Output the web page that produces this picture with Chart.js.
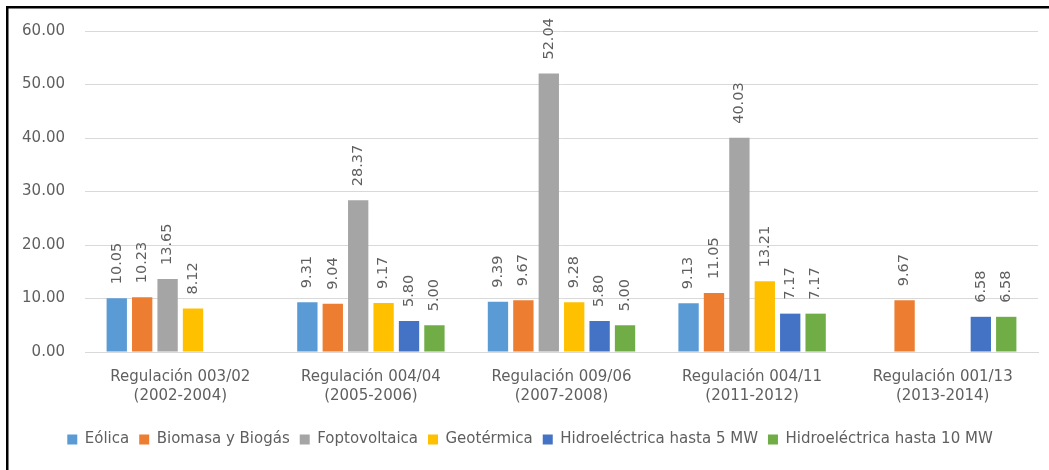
<!DOCTYPE html>
<html lang="es">
<head>
<meta charset="utf-8">
<title>Tarifas por tecnología y regulación</title>
<script src="https://cdn.jsdelivr.net/npm/chart.js@4.4.1/dist/chart.umd.min.js"></script>
<style>
  html, body { margin: 0; padding: 0; background: #ffffff; }
  #wrap { width: 1049px; height: 470px; position: relative; }
</style>
</head>
<body>
<div id="wrap"><canvas id="chart" width="1049" height="470"></canvas></div>
<script>
// Regulations (categories), two-line labels
const categories = [
  ['Regulación 003/02', '(2002-2004)'],
  ['Regulación 004/04', '(2005-2006)'],
  ['Regulación 009/06', '(2007-2008)'],
  ['Regulación 004/11', '(2011-2012)'],
  ['Regulación 001/13', '(2013-2014)']
];

// Series values per technology (null = not covered by that regulation)
const eolica     = [10.05, 9.31, 9.39, 9.13, null];
const biomasa    = [10.23, 9.04, 9.67, 11.05, 9.67];
const foto       = [13.65, 28.37, 52.04, 40.03, null];
const geotermica = [8.12, 9.17, 9.28, 13.21, null];
const hidro5     = [null, 5.80, 5.80, 7.17, 6.58];
const hidro10    = [null, 5.00, 5.00, 7.17, 6.58];

const seriesNames = ['Eólica', 'Biomasa y Biogás', 'Foptovoltaica', 'Geotérmica',
                     'Hidroeléctrica hasta 5 MW', 'Hidroeléctrica hasta 10 MW'];
const seriesColors = ['#5B9BD5', '#ED7D31', '#A5A5A5', '#FFC000', '#4472C4', '#70AD47'];

// Y axis tick values
const yTicks = [0, 10, 20, 30, 40, 50, 60];

const FONT = 'DejaVu Sans';
const TEXT = '#5f5f5f';

// Value labels written vertically above each bar
const valueLabels = {
  id: 'valueLabels',
  afterDatasetsDraw(chart) {
    const ctx = chart.ctx;
    ctx.save();
    ctx.fillStyle = TEXT;
    ctx.font = '14.5px "' + FONT + '"';
    ctx.textAlign = 'left';
    ctx.textBaseline = 'middle';
    chart.data.datasets.forEach((ds, i) => {
      const meta = chart.getDatasetMeta(i);
      meta.data.forEach((el, j) => {
        const v = ds.data[j];
        if (v === null || v === undefined) return;
        ctx.save();
        ctx.translate(el.x, el.y - 14);
        ctx.rotate(-Math.PI / 2);
        ctx.fillText(v.toFixed(2), 0, 0);
        ctx.restore();
      });
    });
    ctx.restore();
  }
};

// Frame lines along the top and left edges
const frame = {
  id: 'frame',
  afterDraw(chart) {
    const ctx = chart.ctx;
    ctx.save();
    ctx.fillStyle = '#000000';
    ctx.fillRect(6, 6, chart.width - 6, 2.5);
    ctx.fillRect(6, 6, 2.5, chart.height - 6);
    ctx.restore();
  }
};

const seriesData = [eolica, biomasa, foto, geotermica, hidro5, hidro10];

new Chart(document.getElementById('chart'), {
  type: 'bar',
  data: {
    labels: categories,
    datasets: seriesData.map((d, i) => ({
      label: seriesNames[i],
      data: d,
      backgroundColor: seriesColors[i],
      borderWidth: 0,
      categoryPercentage: 0.8,
      barPercentage: 0.8
    }))
  },
  options: {
    responsive: false,
    devicePixelRatio: 1,
    animation: false,
    layout: { padding: { left: 22, right: 11, top: 31, bottom: 13 } },
    plugins: {
      tooltip: { enabled: false },
      legend: {
        position: 'bottom',
        labels: {
          color: TEXT,
          font: { family: FONT, size: 15 },
          boxWidth: 10,
          boxHeight: 10,
          padding: 10
        }
      }
    },
    scales: {
      x: {
        grid: { display: false, drawTicks: false },
        border: { color: '#D9D9D9', width: 1 },
        ticks: {
          color: TEXT,
          font: { family: FONT, size: 15, lineHeight: 1.3 },
          padding: 15,
          maxRotation: 0,
          autoSkip: false
        },
        afterFit(s) { s.height = 70; }
      },
      y: {
        min: 0,
        max: 60,
        afterBuildTicks(s) { s.ticks = yTicks.map(v => ({ value: v })); },
        grid: { color: '#D9D9D9', drawTicks: false },
        border: { display: false },
        ticks: {
          color: TEXT,
          font: { family: FONT, size: 15 },
          padding: 20,
          callback: v => Number(v).toFixed(2)
        },
        afterFit(s) { s.width = 63; }
      }
    }
  },
  plugins: [valueLabels, frame]
});
</script>
</body>
</html>
